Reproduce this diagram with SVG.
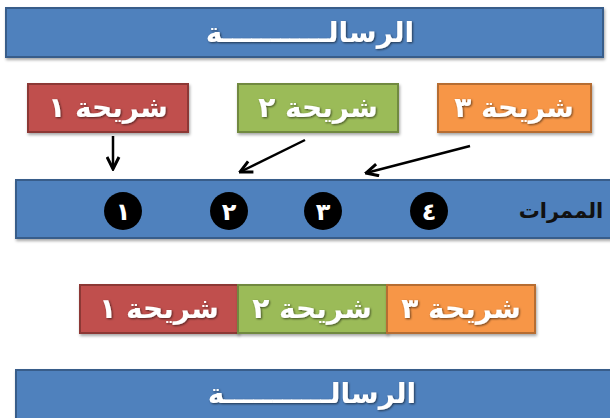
<svg xmlns="http://www.w3.org/2000/svg" width="610" height="418" viewBox="0 0 610 418">
<style>
.bar{fill:#4F81BD;stroke:#385D8A;stroke-width:2}
.red{fill:#C0504D;stroke:#8C3836;stroke-width:2}
.green{fill:#9BBB59;stroke:#71893F;stroke-width:2}
.orange{fill:#F79646;stroke:#B66D31;stroke-width:2}
.lbl{font-family:"DejaVu Sans",sans-serif;font-weight:bold;fill:#fff;text-anchor:middle;direction:rtl}
.num{font-family:"DejaVu Sans",sans-serif;font-weight:bold;fill:#fff;text-anchor:middle;font-size:24px}
.conn{stroke:#000;stroke-width:2.5;fill:none;marker-end:url(#ah)}
</style>
<defs>
<filter id="sh" x="-10%" y="-20%" width="120%" height="150%">
<feDropShadow dx="1" dy="2" stdDeviation="1.5" flood-color="#000" flood-opacity="0.35"/>
</filter>
<filter id="ts" x="-10%" y="-20%" width="120%" height="150%">
<feDropShadow dx="1" dy="1" stdDeviation="0.8" flood-color="#000" flood-opacity="0.6"/>
</filter>
<marker id="ah" viewBox="0 0 10 10" refX="9" refY="5" markerWidth="6" markerHeight="6" orient="auto">
<path d="M1,1 L9,5 L1,9" fill="none" stroke="#000" stroke-width="2"/>
</marker>
</defs>
<g id="message-top">
<rect class="bar" x="6" y="8" width="597" height="49" filter="url(#sh)"/>
<text class="lbl" x="310" y="42" font-size="28" filter="url(#ts)">الرسالـــــــــــة</text>
</g>
<g id="slice1">
<rect class="red" x="28" y="84" width="160" height="48" filter="url(#sh)"/>
<text class="lbl" x="108" y="117" font-size="28" filter="url(#ts)">شريحة ١</text>
</g>
<g id="slice2">
<rect class="green" x="238" y="84" width="160" height="48" filter="url(#sh)"/>
<text class="lbl" x="318" y="117" font-size="28" filter="url(#ts)">شريحة ٢</text>
</g>
<g id="slice3">
<rect class="orange" x="438" y="84" width="153" height="48" filter="url(#sh)"/>
<text class="lbl" x="514" y="117" font-size="28" filter="url(#ts)">شريحة ٣</text>
</g>
<g id="lanes">
<rect class="bar" x="16" y="180" width="596" height="58" filter="url(#sh)"/>
<text x="561" y="218" font-family="DejaVu Sans, sans-serif" font-size="21" font-weight="bold" fill="#111" text-anchor="middle" direction="rtl">الممرات</text>
</g>
<g id="lane1"><circle cx="123" cy="211" r="19" fill="#000"/><text class="num" x="123" y="220">١</text></g>
<g id="lane2"><circle cx="229" cy="211" r="19" fill="#000"/><text class="num" x="229" y="220">٢</text></g>
<g id="lane3"><circle cx="323" cy="211" r="19" fill="#000"/><text class="num" x="323" y="220">٣</text></g>
<g id="lane4"><circle cx="429" cy="211" r="19" fill="#000"/><text class="num" x="429" y="220">٤</text></g>
<g id="connectors">
<line class="conn" x1="113" y1="136" x2="113" y2="169"/>
<line class="conn" x1="305" y1="140" x2="240" y2="172"/>
<line class="conn" x1="470" y1="146" x2="366" y2="173"/>
</g>
<g id="combined">
<g id="c-slice1">
<rect class="red" x="80" y="285" width="158" height="48" filter="url(#sh)"/>
<text class="lbl" x="159" y="318" font-size="28" filter="url(#ts)">شريحة ١</text>
</g>
<g id="c-slice2">
<rect class="green" x="238" y="285" width="149" height="48" filter="url(#sh)"/>
<text class="lbl" x="312" y="318" font-size="28" filter="url(#ts)">شريحة ٢</text>
</g>
<g id="c-slice3">
<rect class="orange" x="387" y="285" width="148" height="48" filter="url(#sh)"/>
<text class="lbl" x="461" y="318" font-size="28" filter="url(#ts)">شريحة ٣</text>
</g>
</g>
<g id="message-bottom">
<rect class="bar" x="16" y="370" width="596" height="50" filter="url(#sh)"/>
<text class="lbl" x="312" y="403" font-size="28" filter="url(#ts)">الرسالـــــــــــة</text>
</g>
</svg>
